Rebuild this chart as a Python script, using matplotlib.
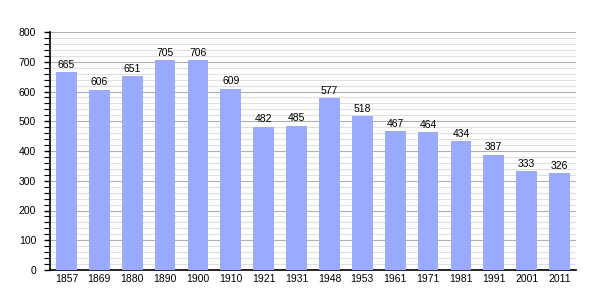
import matplotlib
matplotlib.use("Agg")
import matplotlib.pyplot as plt
from matplotlib.ticker import MultipleLocator

years = ["1857", "1869", "1880", "1890", "1900", "1910", "1921", "1931",
         "1948", "1953", "1961", "1971", "1981", "1991", "2001", "2011"]
population = [665, 606, 651, 705, 706, 609, 482, 485, 577, 518, 467, 464, 434, 387, 333, 326]

fig = plt.figure(figsize=(6.05, 3.0), dpi=100)
ax = fig.add_axes([50/605, 30/300, 526/605, 238/300])
x = list(range(len(years)))
ax.bar(x, population, width=0.63, color="#99aaff", zorder=3)
for xi, v in zip(x, population):
    ax.text(xi, v + 8, str(v), ha="center", va="bottom", fontsize=7.5,
            family="Liberation Sans", zorder=4)

ax.set_xlim(-0.5, len(years) - 0.5)
ax.set_ylim(0, 800)
ax.set_xticks(x)
ax.set_xticklabels(years, fontsize=7.5, family="Liberation Sans")
ax.yaxis.set_major_locator(MultipleLocator(100))
ax.yaxis.set_minor_locator(MultipleLocator(20))
for lbl in ax.get_yticklabels():
    lbl.set_fontsize(7.5)
    lbl.set_family("Liberation Sans")
ax.grid(axis="y", which="major", color="#b0b0b0", linewidth=0.8, zorder=0)
ax.grid(axis="y", which="minor", color="#e0e0e0", linewidth=0.8, zorder=0)
ax.tick_params(axis="x", length=0, pad=3)
ax.tick_params(axis="y", which="major", length=4, width=1, direction="out", pad=6)
ax.tick_params(axis="y", which="minor", length=4, width=0.8, direction="out")
for s in ["top", "right"]:
    ax.spines[s].set_visible(False)
ax.spines["left"].set_linewidth(1.2)
ax.spines["bottom"].set_linewidth(1.2)
fig.savefig("out.png", dpi=100)
